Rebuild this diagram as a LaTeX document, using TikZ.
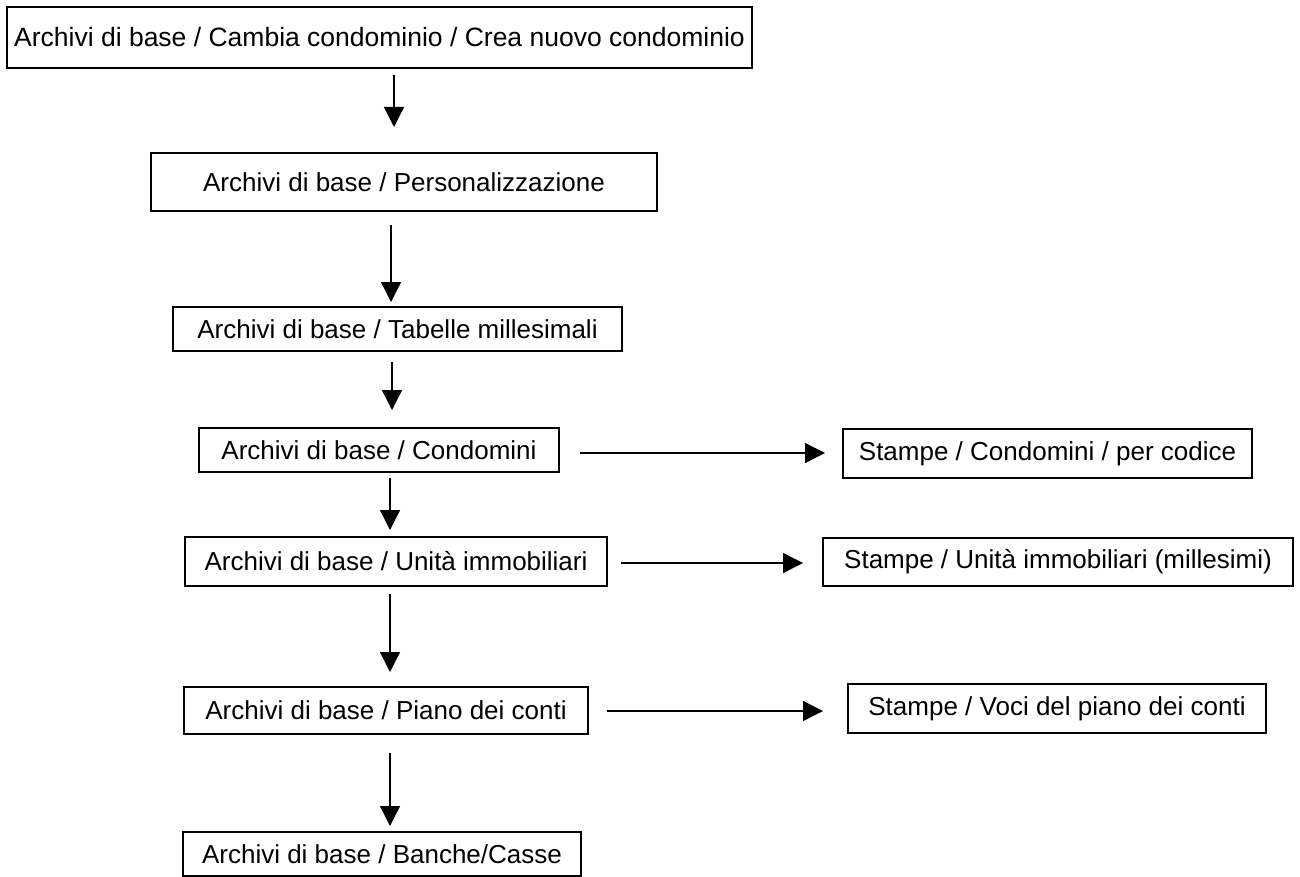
\documentclass[tikz,border=0pt]{standalone}
\usepackage{fontspec}
\setmainfont{Liberation Sans}
\usetikzlibrary{arrows.meta}
\begin{document}
\begin{tikzpicture}[x=1pt,y=-1pt,
  box/.style={draw=black, line width=1.6pt, fill=white, inner sep=0pt, font=\fontsize{26}{30}\selectfont},
  arr/.style={line width=1.3pt, -{Triangle[length=20pt,width=20pt]}}]
\useasboundingbox (0,0) rectangle (1300,877);
% main column
\node[box, minimum width=745pt, minimum height=61pt, font=\fontsize{26.5}{30}\selectfont] (A) at (379.5,37.5) {Archivi di base / Cambia condominio / Crea nuovo condominio};
\node[box, minimum width=506pt, minimum height=58pt] (B) at (404,182) {Archivi di base / Personalizzazione};
\node[box, minimum width=449pt, minimum height=44pt] (C) at (397.5,329) {Archivi di base / Tabelle millesimali};
\node[box, minimum width=360pt, minimum height=44pt] (D) at (379,450) {Archivi di base / Condomini};
\node[box, minimum width=422pt, minimum height=49pt] (E) at (396,561.5) {Archivi di base / Unità immobiliari};
\node[box, minimum width=404pt, minimum height=47pt] (F) at (386,710.5) {Archivi di base / Piano dei conti};
\node[box, minimum width=398pt, minimum height=44pt] (G) at (382,854) {Archivi di base / Banche/Casse};
% right column
\node[box, minimum width=409pt, minimum height=49pt] (H) at (1047.5,453.5) {Stampe / Condomini / per codice};
\node[box, minimum width=470pt, minimum height=48pt] (I) at (1058,562) {Stampe / Unità immobiliari (millesimi)};
\node[box, minimum width=418pt, minimum height=49pt] (J) at (1057,708.5) {Stampe / Voci del piano dei conti};
% arrow end points
\coordinate (a1s) at (394,75);  \coordinate (a1e) at (394,127);
\coordinate (a2s) at (391,225); \coordinate (a2e) at (391,302);
\coordinate (a3s) at (392,362); \coordinate (a3e) at (392,410);
\coordinate (a4s) at (390,478); \coordinate (a4e) at (390,530);
\coordinate (a5s) at (390,594); \coordinate (a5e) at (390,672);
\coordinate (a6s) at (390,753); \coordinate (a6e) at (390,826);
\coordinate (h1s) at (580,453); \coordinate (h1e) at (825,453);
\coordinate (h2s) at (621,563); \coordinate (h2e) at (803,563);
\coordinate (h3s) at (607,711); \coordinate (h3e) at (823,711);
\draw[arr] (a1s) -- (a1e);
\draw[arr] (a2s) -- (a2e);
\draw[arr] (a3s) -- (a3e);
\draw[arr] (a4s) -- (a4e);
\draw[arr] (a5s) -- (a5e);
\draw[arr] (a6s) -- (a6e);
\draw[arr] (h1s) -- (h1e);
\draw[arr] (h2s) -- (h2e);
\draw[arr] (h3s) -- (h3e);
\end{tikzpicture}
\end{document}
